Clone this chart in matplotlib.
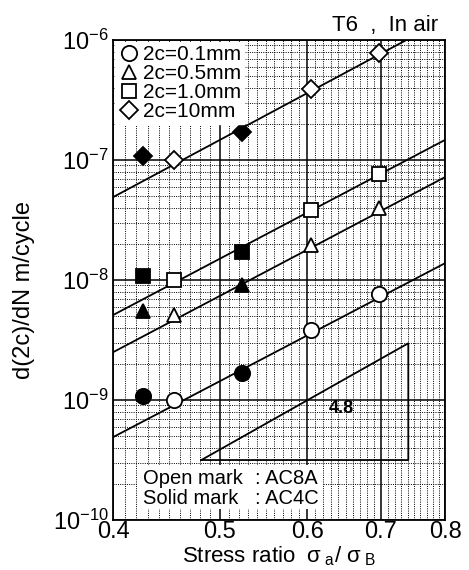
import matplotlib
matplotlib.use("Agg")
import matplotlib.pyplot as plt
from matplotlib.ticker import FixedLocator, LogLocator, NullFormatter
from matplotlib.lines import Line2D
from matplotlib.patches import Rectangle

plt.rcParams['font.family'] = ['Liberation Sans', 'DejaVu Sans']
plt.rcParams['mathtext.fontset'] = 'custom'
plt.rcParams['mathtext.rm'] = 'Liberation Sans'
plt.rcParams['mathtext.it'] = 'Liberation Sans'

# stress ratio of the points
x_open = [0.454, 0.605, 0.697]    # AC8A
x_solid = [0.426, 0.5235]         # AC4C

# crack growth rate d(2c)/dN, m/cycle
circle_open = [1.0e-9, 3.85e-9, 7.7e-9]
circle_solid = [1.07e-9, 1.69e-9]
tri_open = [5.1e-9, 1.97e-8, 3.95e-8]
tri_solid = [5.5e-9, 9.1e-9]
sq_open = [1.0e-8, 3.85e-8, 7.7e-8]
sq_solid = [1.08e-8, 1.72e-8]
dia_open = [1.0e-7, 3.9e-7, 7.75e-7]
dia_solid = [1.08e-7, 1.72e-7]

# fitted lines (end points)
line_x = [[0.4, 0.8], [0.4, 0.8], [0.4, 0.8], [0.4, 0.738]]
line_y = [[4.9e-10, 1.38e-8], [2.5e-9, 7.2e-8], [5.1e-9, 1.47e-7], [4.9e-8, 1.0e-6]]

# slope triangle
tri_x = [0.481, 0.741, 0.741, 0.481]
tri_y = [3.16e-10, 2.97e-9, 3.16e-10, 3.16e-10]

labels = ['2c=0.1mm', '2c=0.5mm', '2c=1.0mm', '2c=10mm']
markers = ['o', '^', 's', 'D']

fig = plt.figure(figsize=(4.69, 5.70), dpi=100)
ax = fig.add_axes([113/469, 50/570, 332/469, 480/570])
ax.set_xscale('log')
ax.set_yscale('log')
ax.set_xlim(0.4, 0.8)
ax.set_ylim(1e-10, 1e-6)

# graph paper grid
ax.set_xticks([0.4, 0.5, 0.6, 0.7, 0.8])
ax.set_xticklabels(['0.4', '0.5', '0.6', '0.7', '0.8'])
minor_x = [round(0.4 + 0.01*i, 2) for i in range(1, 40) if i % 10 != 0]
ax.xaxis.set_minor_locator(FixedLocator(minor_x))
ax.xaxis.set_minor_formatter(NullFormatter())
ax.yaxis.set_major_locator(LogLocator(base=10, numticks=10))
ax.yaxis.set_minor_locator(LogLocator(base=10, subs=[2, 3, 4, 5, 6, 7, 8, 9], numticks=50))
ax.yaxis.set_minor_formatter(NullFormatter())
ax.grid(which='major', color='black', lw=1.1, ls='-')
ax.grid(which='minor', color='black', lw=0.7, ls=(0, (1, 1.3)))
ax.set_axisbelow(True)
ax.tick_params(which='both', length=0, labelsize=17, pad=3)
ax.tick_params(axis='x', pad=1)
for s in ax.spines.values():
    s.set_linewidth(1.3)

for lx, ly in zip(line_x, line_y):
    ax.plot(lx, ly, color='black', lw=1.3, zorder=3)

ax.plot(tri_x, tri_y, color='black', lw=1.3, zorder=3)
ax.text(0.628, 1.0e-9, '4.8', fontsize=13, fontweight='bold', va='top', ha='left', zorder=4)

opens = [circle_open, tri_open, sq_open, dia_open]
solids = [circle_solid, tri_solid, sq_solid, dia_solid]
sizes = [11, 10.5, 10, 9.5]
for m, yo, ys, ms in zip(markers, opens, solids, sizes):
    ax.plot(x_open, yo, ls='none', marker=m, ms=ms, mfc='white', mec='black', mew=1.3, zorder=5)
    ax.plot(x_solid, ys, ls='none', marker=m, ms=ms, mfc='black', mec='black', mew=1.3, zorder=5)

handles = [Line2D([], [], ls='none', marker=m, ms=ms, mfc='white', mec='black', mew=1.3)
           for m, ms in zip(markers, sizes)]
leg = ax.legend(handles, labels, loc='upper left', fontsize=15, frameon=True,
                fancybox=False, borderpad=0.15, labelspacing=0.0, handletextpad=0.2,
                handlelength=1.0, borderaxespad=0.1)
leg.get_frame().set_edgecolor('white')
leg.get_frame().set_facecolor('white')
leg.get_frame().set_alpha(1)
leg.set_zorder(6)

# note box
ax.add_patch(Rectangle((25/332, 11/480), 185/332, 44/480, transform=ax.transAxes,
                       facecolor='white', edgecolor='none', zorder=4))
ax.text(30/332, 42/480, 'Open mark', transform=ax.transAxes, fontsize=14.5, va='center', zorder=5)
ax.text(30/332, 21/480, 'Solid mark', transform=ax.transAxes, fontsize=14.5, va='center', zorder=5)
ax.text(142/332, 42/480, ': AC8A', transform=ax.transAxes, fontsize=14.5, va='center', zorder=5)
ax.text(142/332, 21/480, ': AC4C', transform=ax.transAxes, fontsize=14.5, va='center', zorder=5)

ax.set_xlabel(r'Stress ratio  $\sigma_{\ \rm a}/\ \sigma_{\ \rm B}$', fontsize=16)
ax.xaxis.set_label_coords(0.5, -36/480)
ax.xaxis.label.set_va('center')
ax.set_ylabel('d(2c)/dN m/cycle', fontsize=17)
ax.yaxis.set_label_coords(-78/332, 0.48)
fig.text(438/469, 1 - 25/570, 'T6  ,  In air', fontsize=16, ha='right', va='center')

fig.savefig('out.png', dpi=100)
